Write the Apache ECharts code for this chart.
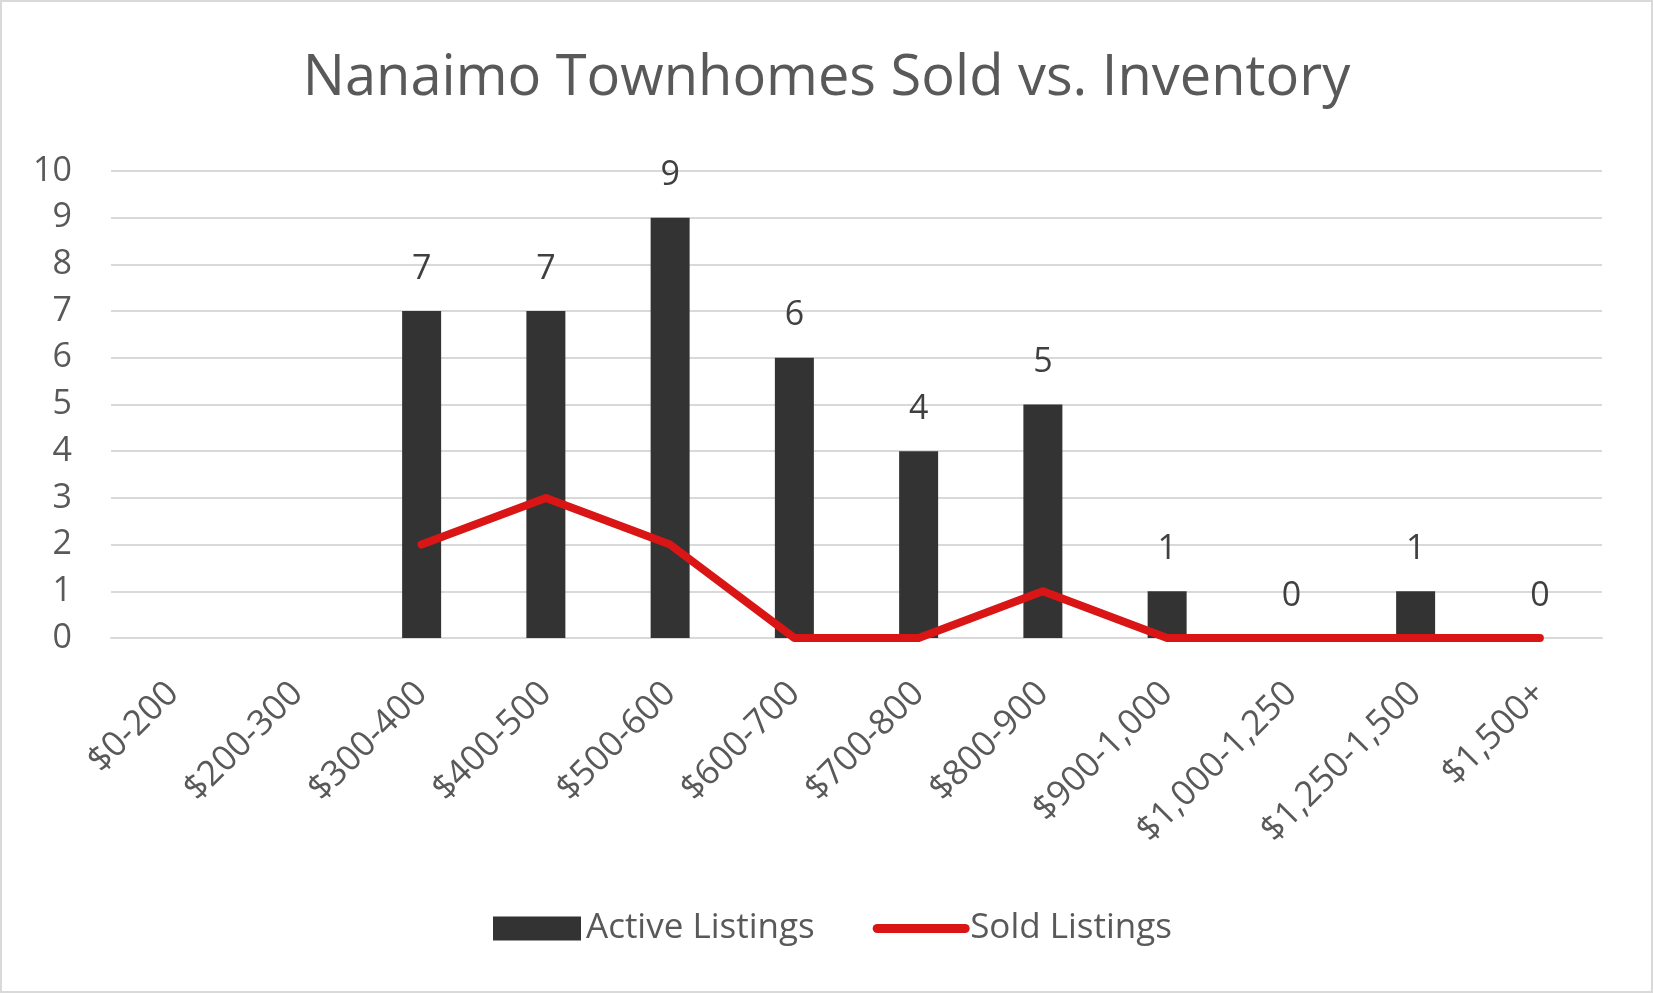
<!DOCTYPE html>
<html>
<head>
<meta charset="utf-8">
<script src="https://cdn.jsdelivr.net/npm/echarts@6/dist/echarts.min.js"></script>
<style>
html,body{margin:0;padding:0;background:#fff;}
#chart{width:1653px;height:993px;}
</style>
</head>
<body>
<div id="chart"></div>
<script>
const titleText = 'Nanaimo Townhomes Sold vs. Inventory';
const categories = ['$0-200','$200-300','$300-400','$400-500','$500-600','$600-700','$700-800','$800-900','$900-1,000','$1,000-1,250','$1,250-1,500','$1,500+'];
const activeListings = [null, null, 7, 7, 9, 6, 4, 5, 1, 0, 1, 0];
const soldListings = [null, null, 2, 3, 2, 0, 0, 1, 0, 0, 0, 0];
const yTicks = {min: 0, max: 10, interval: 1};

const FONT = '"Open Sans", "Noto Sans", sans-serif';
const TXT = '#595959';
const RED = '#d91515';
const chart = echarts.init(document.getElementById('chart'), null, {renderer: 'canvas'});
chart.setOption({
  backgroundColor: '#ffffff',
  animation: false,
  title: {
    text: titleText,
    left: 'center',
    top: 46,
    textStyle: {fontFamily: FONT, fontSize: 56, fontWeight: 'normal', color: TXT}
  },
  legend: {
    left: 488,
    top: 906,
    itemWidth: 88,
    itemHeight: 24,
    itemGap: 58,
    textStyle: {fontFamily: FONT, fontSize: 35, color: TXT},
    data: [
      {name: 'Active Listings', icon: 'rect'},
      {name: 'Sold Listings', itemStyle: {opacity: 0}, lineStyle: {width: 9, cap: 'round', color: RED}}
    ]
  },
  graphic: [{
    type: 'rect',
    shape: {x: 1, y: 1, width: 1651, height: 991},
    style: {fill: 'none', stroke: '#d9d9d9', lineWidth: 2},
    silent: true
  }],
  grid: {left: 111, right: 51, top: 171, bottom: 355, containLabel: false},
  xAxis: {
    type: 'category',
    data: categories,
    axisLine: {show: true, lineStyle: {color: '#d9d9d9', width: 2}},
    axisTick: {show: false},
    axisLabel: {rotate: 45, margin: 50, interval: 0, fontFamily: FONT, fontSize: 35, color: TXT}
  },
  yAxis: {
    type: 'value',
    min: yTicks.min,
    max: yTicks.max,
    interval: yTicks.interval,
    axisLine: {show: false},
    axisTick: {show: false},
    splitLine: {lineStyle: {color: '#d9d9d9', width: 2}},
    axisLabel: {margin: 39, fontFamily: FONT, fontSize: 34, color: TXT}
  },
  series: [
    {
      name: 'Active Listings',
      type: 'bar',
      data: activeListings,
      barWidth: 39,
      itemStyle: {color: '#333333'},
      label: {show: true, position: 'top', distance: 25, fontFamily: FONT, fontSize: 34, color: '#404040'}
    },
    {
      name: 'Sold Listings',
      type: 'line',
      data: soldListings,
      symbol: 'none',
      showSymbol: false,
      lineStyle: {color: RED, width: 8, cap: 'round', join: 'round'},
      itemStyle: {color: RED}
    }
  ]
});
</script>
</body>
</html>
